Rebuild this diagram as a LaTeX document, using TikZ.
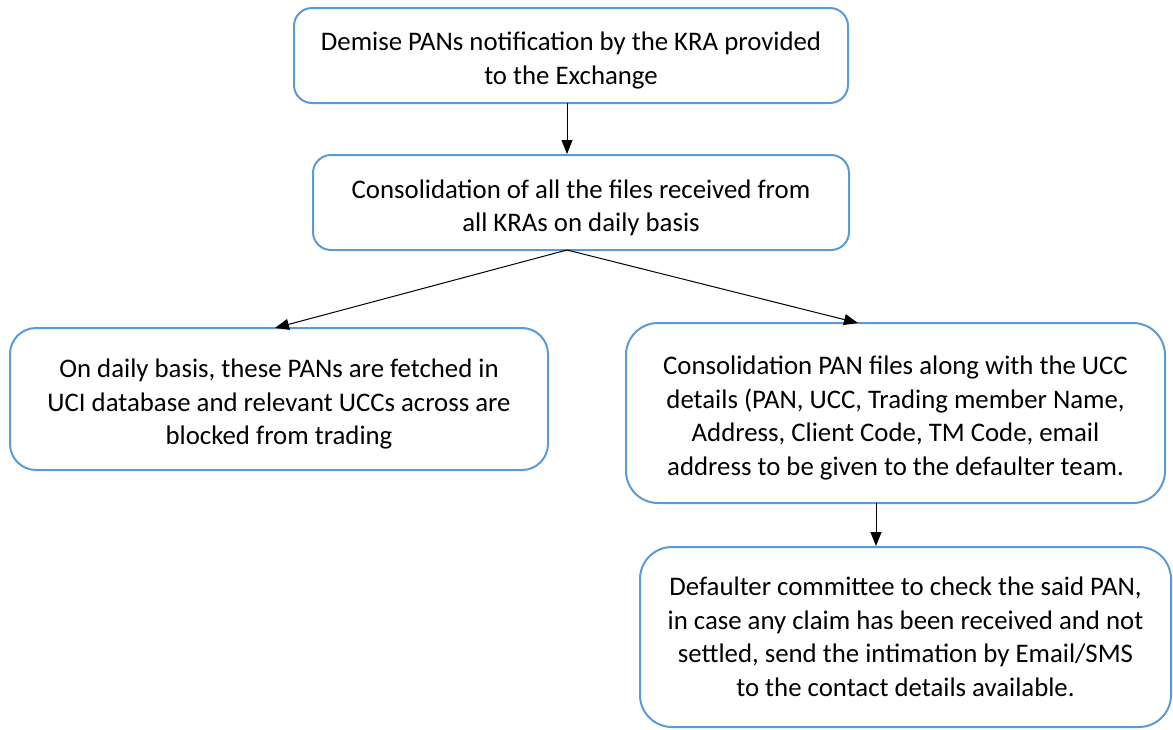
\documentclass[tikz,border=0pt]{standalone}
\usepackage{fontspec}
\setmainfont{Carlito}
\usetikzlibrary{arrows.meta,calc}
\definecolor{boxblue}{HTML}{5B9BD5}
\newcommand\topgap{\rule{0pt}{29pt}}
\tikzset{
  flowbox/.style={draw=boxblue, line width=2pt, fill=white, align=center, inner sep=0pt,
    font=\fontsize{26.8}{33.5}\selectfont},
  conn/.style={draw=black, line width=1pt, -{Triangle[length=14pt,width=11pt]}}
}
\begin{document}
\begin{tikzpicture}[x=1pt,y=-1pt]
\useasboundingbox (0,0) rectangle (1173,729);
\node[flowbox, rounded corners=18pt, minimum width=554pt, minimum height=95pt] (b1) at (571,55.5)
  {\topgap Demise PANs notification by the KRA provided\\to the Exchange};
\node[flowbox, rounded corners=18pt, minimum width=536pt, minimum height=95pt] (b2) at (581,202.5)
  {\topgap Consolidation of all the files received from\\all KRAs on daily basis};
\node[flowbox, rounded corners=26pt, minimum width=538pt, minimum height=142pt] (b3) at (279,399)
  {\topgap On daily basis, these PANs are fetched in\\UCI database and relevant UCCs across are\\blocked from trading};
\node[flowbox, rounded corners=32pt, minimum width=539pt, minimum height=180pt] (b4) at (895.5,413)
  {\topgap Consolidation PAN files along with the UCC\\details (PAN, UCC, Trading member Name,\\Address, Client Code, TM Code, email\\address to be given to the defaulter team.};
\node[flowbox, rounded corners=32pt, minimum width=531pt, minimum height=180pt] (b5) at (905.5,637)
  {Defaulter committee to check the said PAN,\\in case any claim has been received and not\\settled, send the intimation by Email/SMS\\to the contact details available.};
\coordinate (a1s) at (567,103);
\coordinate (a1e) at (567,154);
\coordinate (s2) at (567,250);
\coordinate (e3) at (275,328);
\coordinate (e4) at (858,323);
\coordinate (a4s) at (876,503);
\coordinate (a4e) at (876,546);
\draw[conn] (a1s) -- (a1e);
\draw[conn] (s2) -- (e3);
\draw[conn] (s2) -- (e4);
\draw[conn] (a4s) -- (a4e);
\end{tikzpicture}
\end{document}
